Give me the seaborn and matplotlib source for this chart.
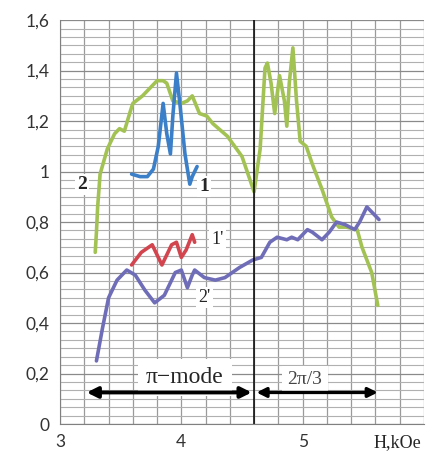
import matplotlib
matplotlib.use('Agg')
import pandas as pd
import matplotlib.pyplot as plt
import seaborn as sns
from matplotlib.ticker import MultipleLocator, FuncFormatter

# curve 2 (green)
green_x = [3.29, 3.30, 3.31, 3.33, 3.39, 3.45, 3.49, 3.53, 3.58, 3.60, 3.68, 3.74, 3.80, 3.85,
           3.88, 3.93, 4.00, 4.05, 4.09, 4.15, 4.21, 4.26, 4.38, 4.50, 4.60, 4.65, 4.69, 4.71,
           4.74, 4.77, 4.81, 4.85, 4.87, 4.89, 4.92, 4.95, 4.98, 5.03, 5.08, 5.16, 5.24, 5.30,
           5.36, 5.45, 5.49, 5.57, 5.62]
green_y = [0.68, 0.76, 0.86, 0.99, 1.09, 1.15, 1.17, 1.16, 1.24, 1.27, 1.30, 1.33, 1.36, 1.36,
           1.35, 1.28, 1.27, 1.28, 1.30, 1.23, 1.22, 1.19, 1.14, 1.06, 0.92, 1.09, 1.41, 1.43,
           1.35, 1.23, 1.38, 1.28, 1.18, 1.35, 1.49, 1.28, 1.12, 1.10, 1.03, 0.93, 0.82, 0.78,
           0.78, 0.77, 0.70, 0.60, 0.47]

# curve 1 (blue)
blue_x = [3.59, 3.66, 3.72, 3.77, 3.81, 3.85, 3.88, 3.91, 3.93, 3.96, 3.99, 4.03, 4.07, 4.09, 4.13]
blue_y = [0.99, 0.98, 0.98, 1.01, 1.10, 1.27, 1.15, 1.07, 1.22, 1.39, 1.26, 1.07, 0.95, 0.98, 1.02]

# curve 1' (red)
red_x = [3.59, 3.67, 3.76, 3.84, 3.92, 3.96, 4.00, 4.04, 4.09, 4.11]
red_y = [0.63, 0.68, 0.71, 0.63, 0.71, 0.72, 0.66, 0.69, 0.75, 0.72]

# curve 2' (purple)
purple_x = [3.30, 3.35, 3.40, 3.47, 3.55, 3.62, 3.70, 3.78, 3.86, 3.95, 4.00, 4.05, 4.09, 4.11,
            4.19, 4.28, 4.36, 4.48, 4.59, 4.66, 4.73, 4.79, 4.87, 4.91, 4.96, 5.04, 5.08, 5.16,
            5.22, 5.28, 5.35, 5.43, 5.47, 5.53, 5.63]
purple_y = [0.25, 0.38, 0.50, 0.57, 0.61, 0.59, 0.53, 0.48, 0.51, 0.60, 0.61, 0.54, 0.59, 0.61,
            0.58, 0.57, 0.58, 0.62, 0.65, 0.66, 0.72, 0.74, 0.73, 0.74, 0.73, 0.77, 0.76, 0.73,
            0.76, 0.80, 0.79, 0.77, 0.80, 0.86, 0.81]

x_ticks = [3, 4, 5]
y_ticks = [0, 0.2, 0.4, 0.6, 0.8, 1.0, 1.2, 1.4, 1.6]
mode_split = 4.6

sns.set_style("white")
plt.rcParams['font.family'] = ['Lato', 'DejaVu Sans']

fig = plt.figure(figsize=(4.29, 4.68), dpi=100)
ax = fig.add_axes([0.14, 0.094, 0.848, 0.863])

# grid
ax.xaxis.set_minor_locator(MultipleLocator(0.2))
ax.yaxis.set_minor_locator(MultipleLocator(0.2 / 6))
ax.grid(which='both', axis='x', color='#9a9a9a', lw=0.9)
ax.grid(which='minor', axis='y', color='#b0b0b0', lw=0.8)
ax.grid(which='major', axis='y', color='#8a8a8a', lw=0.9)
ax.set_axisbelow(True)

sns.lineplot(x=green_x, y=green_y, ax=ax, color='#a3c254', lw=2.6, sort=False)
sns.lineplot(x=blue_x, y=blue_y, ax=ax, color='#3b7fc9', lw=2.6, sort=False)
sns.lineplot(x=red_x, y=red_y, ax=ax, color='#d2454f', lw=2.6, sort=False)
sns.lineplot(x=purple_x, y=purple_y, ax=ax, color='#6f6db8', lw=2.6, sort=False)

ax.axvline(mode_split, color='black', lw=1.1)

ax.set_xlim(3, 6)
ax.set_ylim(0, 1.6)
ax.set_xticks(x_ticks)
ax.set_yticks(y_ticks)
ax.yaxis.set_major_formatter(FuncFormatter(lambda v, p: ('%g' % round(v, 1)).replace('.', ',')))
ax.tick_params(axis='both', which='major', length=4, color='#808080', labelsize=12.5,
               labelcolor='#333333', direction='out')
ax.tick_params(which='minor', length=0)
for s in ['top', 'right']:
    ax.spines[s].set_visible(False)
for s in ['left', 'bottom']:
    ax.spines[s].set_color('#808080')

serif = ['Liberation Serif', 'DejaVu Serif']
box = dict(facecolor='white', edgecolor='none', pad=1.5)
ax.text(3.18, 0.95, '2', fontsize=14, family=serif, fontweight='bold', ha='center', va='center', bbox=box)
ax.text(4.19, 0.94, '1', fontsize=14, family=serif, fontweight='bold', ha='center', va='center', bbox=box)
ax.text(4.30, 0.73, "1'", fontsize=13, family=serif, ha='center', va='center', bbox=box)
ax.text(4.19, 0.50, "2'", fontsize=13, family=serif, ha='center', va='center', bbox=box)
ax.text(4.03, 0.185, 'π−mode', fontsize=17, family=serif, ha='center', va='center',
        bbox=dict(facecolor='white', edgecolor='none', pad=6))
ax.text(5.02, 0.175, '2π/3', fontsize=14, family=serif, color='#444444', ha='center', va='center',
        bbox=dict(facecolor='white', edgecolor='none', pad=4))
ax.text(5.78, -0.075, 'H,kOe', fontsize=13, family=serif, ha='center', va='center',
        bbox=dict(facecolor='white', edgecolor='none', pad=1), clip_on=False)

# mode arrows
ax.annotate('', xy=(4.58, 0.125), xytext=(3.22, 0.125),
            arrowprops=dict(arrowstyle='<|-|>', color='black', lw=2.8, mutation_scale=16,
                            shrinkA=0, shrinkB=0))
ax.annotate('', xy=(5.62, 0.125), xytext=(4.62, 0.125),
            arrowprops=dict(arrowstyle='<|-|>', color='black', lw=2.4, mutation_scale=14,
                            shrinkA=0, shrinkB=0))

plt.savefig('out.png', dpi=100)
plt.close()
